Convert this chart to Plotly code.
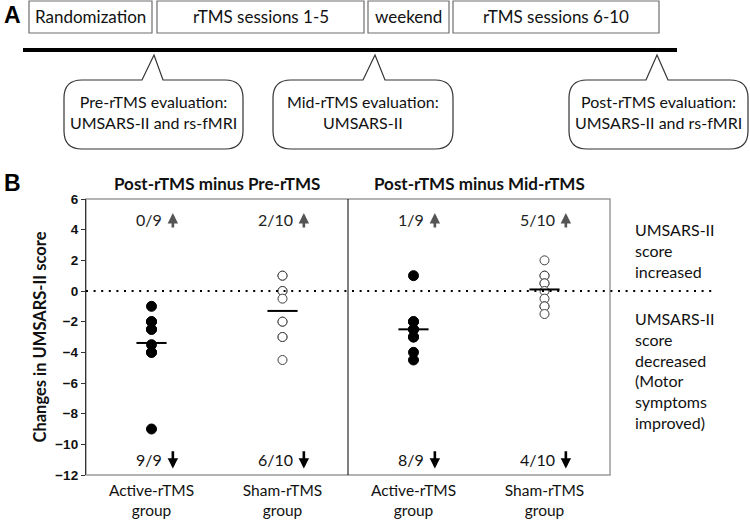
import plotly.graph_objects as go

W, H = 750, 520

# ---------------- data ----------------
groups = ["Active-rTMS<br>group", "Sham-rTMS<br>group", "Active-rTMS<br>group", "Sham-rTMS<br>group"]
active_pre = [-1, -2, -2, -2.5, -2.5, -3.5, -4, -4, -9]
sham_pre = [1, 1, 0, 0, -0.5, -2, -2, -3, -3, -4.5]
active_mid = [1, -2, -2, -2.5, -2.5, -3, -3, -4, -4.5]
sham_mid = [2, 1, 1, 0.5, 0.5, 0, -0.5, -1, -1, -1.5]
series = [active_pre, sham_pre, active_mid, sham_mid]
filled = [True, False, True, False]
up_counts = ["0/9", "2/10", "1/9", "5/10"]
down_counts = ["9/9", "6/10", "8/9", "4/10"]
panel_titles = ["Post-rTMS minus Pre-rTMS", "Post-rTMS minus Mid-rTMS"]
y_ticks = [6, 4, 2, 0, -2, -4, -6, -8, -10, -12]
timeline_boxes = ["Randomization", "rTMS sessions 1-5", "weekend", "rTMS sessions 6-10"]
callout_texts = ["Pre-rTMS evaluation:<br>UMSARS-II and rs-fMRI",
                 "Mid-rTMS evaluation:<br>UMSARS-II",
                 "Post-rTMS evaluation:<br>UMSARS-II and rs-fMRI"]
side_up_text = "UMSARS-II<br>score<br>increased"
side_down_text = "UMSARS-II<br>score<br>decreased<br>(Motor<br>symptoms<br>improved)"

FONT = "Lato"
BOLD_SANS = "Liberation Sans"


def px(x):
    return x / W


def py(y):
    return 1 - y / H


fig = go.Figure()

# ---------------- panel B traces ----------------
for gi, vals in enumerate(series):
    xs = [gi] * len(vals)
    if filled[gi]:
        marker = dict(size=10, color="black", line=dict(color="black", width=1))
    else:
        marker = dict(size=9, color="white", line=dict(color="#404040", width=1))
    fig.add_trace(go.Scatter(x=xs, y=vals, mode="markers", marker=marker,
                             showlegend=False, hoverinfo="y"))
    m = sum(vals) / len(vals)
    fig.add_trace(go.Scatter(x=[gi - 0.115, gi + 0.115], y=[m, m], mode="lines",
                             line=dict(color="black", width=2),
                             showlegend=False, hoverinfo="skip"))

shapes = []
annos = []


def txt(x, y, text, size=16, color="#111", xanchor="center", yanchor="middle",
        xref="paper", yref="paper", family=FONT, weight="normal", align="center"):
    annos.append(dict(x=x, y=y, xref=xref, yref=yref, text=text, showarrow=False,
                      xanchor=xanchor, yanchor=yanchor, align=align,
                      font=dict(family=family, size=size, color=color, weight=weight)))


# frame of the plot area
shapes.append(dict(type="rect", xref="x domain", yref="y domain", x0=0, x1=1, y0=0, y1=1,
                   line=dict(color="#9a9a9a", width=1.5), layer="below"))
# divider between the two panels
shapes.append(dict(type="line", xref="x", yref="y domain", x0=1.5, x1=1.5, y0=0, y1=1,
                   line=dict(color="black", width=1)))
# dotted zero line extending to the right
shapes.append(dict(type="line", xref="paper", yref="y", x0=px(86), x1=px(716), y0=0, y1=0,
                   line=dict(color="black", width=2.2, dash="2px,5.6px")))

# count annotations and arrows
for gi in range(4):
    txt(gi + 0.095, 4.68, up_counts[gi], size=16, color="#222", xanchor="right",
        xref="x", yref="y")
    annos.append(dict(x=gi + 0.163, y=5.08, xref="x", yref="y", ax=gi + 0.163, ay=4.05,
                      axref="x", ayref="y", text="", showarrow=True,
                      arrowhead=2, arrowsize=0.8, arrowwidth=2.6, arrowcolor="#555555", standoff=0))
    txt(gi + 0.095, -11.0, down_counts[gi], size=16, color="#111", xanchor="right",
        xref="x", yref="y")
    annos.append(dict(x=gi + 0.163, y=-11.58, xref="x", yref="y", ax=gi + 0.163, ay=-10.35,
                      axref="x", ayref="y", text="", showarrow=True,
                      arrowhead=2, arrowsize=0.8, arrowwidth=2.6, arrowcolor="black", standoff=0))

# panel titles
for i, t in enumerate(panel_titles):
    txt(0.5 + 2 * i, py(183), t, size=17, xref="x", weight="bold")

# right double arrow
xa = 3.5 + 11 / 131
for head in (6.05, -11.9):
    annos.append(dict(x=xa, y=head, xref="x", yref="y", ax=xa, ay=0, axref="x", ayref="y",
                      text="", showarrow=True, arrowhead=3, arrowsize=0.85, arrowwidth=2.4,
                      arrowcolor="black", standoff=0))
dx, dy = 6 / 131, 6 / 15.33
shapes.append(dict(type="path", xref="x", yref="y",
                   path=f"M {xa - dx},0 L {xa},{dy} L {xa + dx},0 L {xa},{-dy} Z",
                   fillcolor="black", line=dict(color="black", width=0)))

txt(px(633), py(218), side_up_text, xanchor="left", yanchor="top", align="left")
txt(px(633), py(307), side_down_text, xanchor="left", yanchor="top", align="left")

# panel letters
txt(px(2), py(15), "A", size=23, color="black", xanchor="left", family=BOLD_SANS, weight="bold")
txt(px(2), py(183), "B", size=23, color="black", xanchor="left", family=BOLD_SANS, weight="bold")

# ---------------- panel A (timeline diagram) ----------------
box_x = [(29, 152), (157, 364), (368, 449), (453, 659)]
for (x0, x1), t in zip(box_x, timeline_boxes):
    shapes.append(dict(type="rect", xref="paper", yref="paper", x0=px(x0), x1=px(x1),
                       y0=py(33), y1=py(1), line=dict(color="#6e6e6e", width=1.2)))
    txt(px((x0 + x1) / 2), py(17), t, size=17)
shapes.append(dict(type="line", xref="paper", yref="paper", x0=px(23), x1=px(677),
                   y0=py(50), y1=py(50), line=dict(color="black", width=4)))


def callout(x0, x1, y0, y1, bx0, apx, bx1, apy, r=18):
    def P(x, y):
        return f"{px(x)},{py(y)}"
    return (f"M {P(x0 + r, y0)} L {P(bx0, y0)} L {P(apx, apy)} L {P(bx1, y0)} "
            f"L {P(x1 - r, y0)} Q {P(x1, y0)} {P(x1, y0 + r)} L {P(x1, y1 - r)} "
            f"Q {P(x1, y1)} {P(x1 - r, y1)} L {P(x0 + r, y1)} Q {P(x0, y1)} {P(x0, y1 - r)} "
            f"L {P(x0, y0 + r)} Q {P(x0, y0)} {P(x0 + r, y0)} Z")


callout_geo = [(64, 243, 142, 154, 163), (273, 453, 363, 375, 385), (569, 748, 646, 657, 668)]
for (x0, x1, b0, ap, b1), t in zip(callout_geo, callout_texts):
    shapes.append(dict(type="path", xref="paper", yref="paper",
                       path=callout(x0, x1, 80, 149, b0, ap, b1, 55),
                       line=dict(color="#333333", width=1.2), fillcolor="rgba(0,0,0,0)"))
    txt(px((x0 + x1) / 2), py(112), t)

fig.update_layout(
    template="none",
    width=W, height=H, autosize=False,
    margin=dict(l=0, r=0, t=0, b=0, pad=0),
    paper_bgcolor="white", plot_bgcolor="white",
    shapes=shapes, annotations=annos,
    xaxis=dict(domain=[px(86), px(610)], range=[-0.5, 3.5], tickvals=[0, 1, 2, 3],
               ticktext=groups, showgrid=False, zeroline=False, showline=False, ticks="",
               automargin=False, ticklabelstandoff=4,
               tickfont=dict(family=FONT, size=15.5, color="#111")),
    yaxis=dict(domain=[(H - 475) / H, (H - 199) / H], range=[-12, 6], tickvals=y_ticks,
               showgrid=False, zeroline=False, showline=True, linecolor="#333333", linewidth=1.3,
               ticks="outside", ticklen=4, tickcolor="#333333", automargin=False,
               tickfont=dict(family=BOLD_SANS, size=13.5, color="#111", weight="bold"),
               title=dict(text="Changes in UMSARS-II score", standoff=4,
                          font=dict(family=FONT, size=16.5, color="#111", weight="bold"))),
)

fig.write_html("out.html", config={"displayModeBar": False},
               post_script="document.body.style.margin='0px';document.body.style.overflow='hidden';")
